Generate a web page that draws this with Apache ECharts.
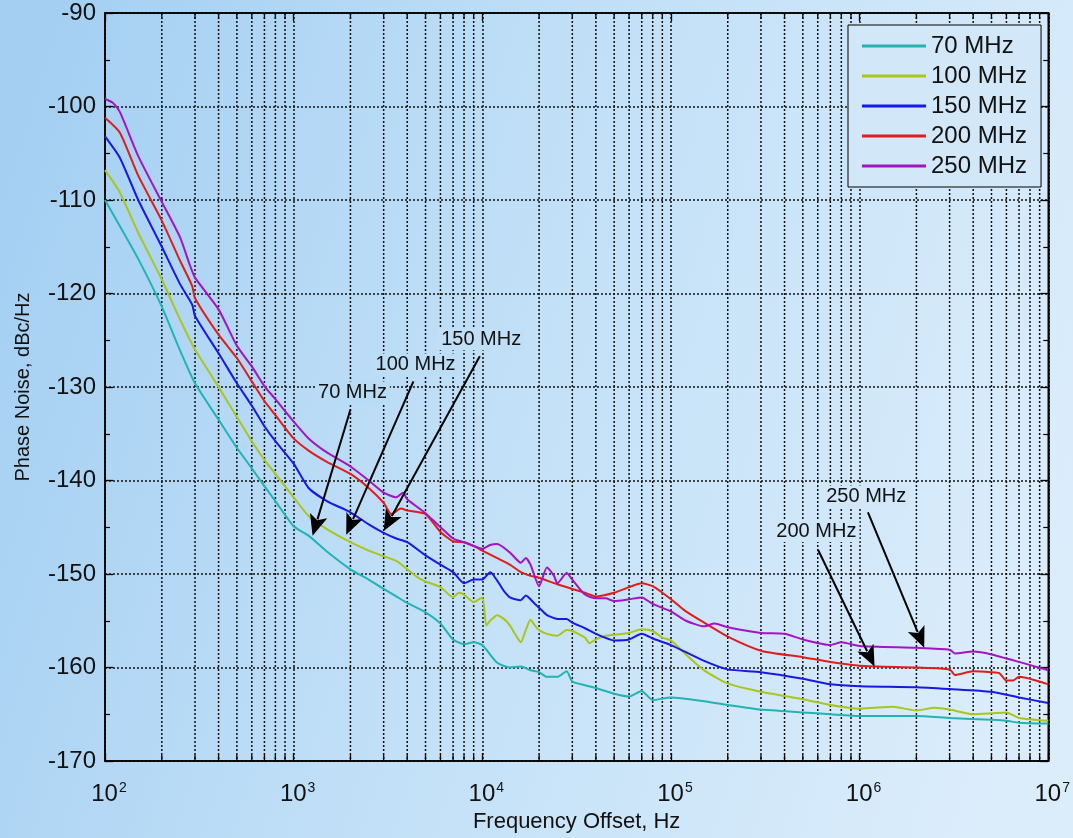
<!DOCTYPE html>
<html>
<head>
<meta charset="utf-8">
<script src="https://cdn.jsdelivr.net/npm/echarts@6/dist/echarts.min.js"></script>
<style>
  html, body { margin: 0; padding: 0; }
  #chart { width: 1073px; height: 838px; }
</style>
</head>
<body>
<div id="chart"></div>
<script>
// Phase noise vs. frequency offset for five carrier frequencies

const seriesNames = ['70 MHz', '100 MHz', '150 MHz', '200 MHz', '250 MHz'];

const freq70 = [100,120,150,200,250,300,400,500,600,700,800,1000,1200,1500,2000,2500,3000,3500,4000,5000,6000,7000,8000,9000,10000,12000,14000,16000,18000,20000,22000,25000,28000,30000,35000,40000,50000,60000,70000,80000,100000,150000,200000,300000,500000,700000,1e6,2e6,3e6,5e6,6e6,7e6,1e7];
const pn70 = [-110.0,-112.8,-116.3,-121.4,-126.1,-129.6,-133.5,-136.5,-138.7,-140.6,-142.2,-144.9,-145.9,-147.6,-149.5,-150.6,-151.6,-152.4,-153.1,-154.1,-155.3,-157.0,-157.5,-157.3,-157.6,-159.5,-160.0,-159.9,-160.3,-160.5,-161.0,-161.0,-160.4,-161.5,-161.9,-162.2,-162.8,-163.1,-162.5,-163.5,-163.2,-163.6,-164.0,-164.5,-164.8,-165.0,-165.2,-165.2,-165.4,-165.6,-165.7,-165.9,-166.0];

const freq100 = [100,110,120,150,200,250,300,400,500,600,700,800,1000,1200,1500,2000,2500,3000,3500,4000,4500,5000,6000,7000,7500,8000,9000,10000,10500,11000,12000,13000,14000,15000,16000,17000,18000,19000,20000,22000,25000,28000,30000,33000,35000,37000,40000,45000,50000,60000,70000,80000,90000,100000,120000,150000,200000,300000,500000,700000,1e6,1.2e6,1.5e6,2e6,2.5e6,3e6,4e6,5e6,6e6,7e6,1e7];
const pn100 = [-106.8,-108.0,-109.2,-113.5,-118.5,-122.8,-126.0,-130.0,-133.2,-135.8,-137.8,-139.3,-141.8,-143.8,-145.2,-146.6,-147.5,-148.1,-148.6,-149.5,-150.3,-150.8,-151.4,-152.5,-152.0,-152.2,-153.0,-152.5,-155.5,-155.0,-154.4,-154.8,-155.5,-156.5,-157.3,-156.0,-154.9,-155.5,-156.0,-156.4,-156.6,-156.0,-156.1,-156.5,-156.8,-157.4,-157.0,-156.6,-156.5,-156.3,-155.9,-156.1,-156.8,-157.1,-158.6,-160.3,-161.7,-162.6,-163.4,-164.0,-164.4,-164.3,-164.2,-164.6,-164.3,-164.5,-165.0,-164.9,-164.8,-165.4,-165.7];

const freq150 = [100,120,150,200,250,290,300,400,500,600,700,800,1000,1200,1500,2000,2500,3000,3500,4000,5000,6000,7000,8000,9000,10000,11000,13000,14000,16000,17000,19000,20000,22000,25000,28000,30000,35000,40000,50000,60000,70000,80000,100000,150000,200000,300000,500000,700000,1e6,2e6,3e6,5e6,7e6,1e7];
const pn150 = [-103.2,-105.5,-110.0,-115.0,-119.0,-121.2,-122.4,-126.4,-129.6,-132.0,-134.2,-135.8,-138.2,-140.8,-142.2,-143.4,-144.7,-145.6,-146.2,-146.6,-148.0,-149.0,-149.8,-151.0,-150.6,-150.6,-149.8,-151.8,-152.5,-152.8,-152.3,-153.2,-153.6,-154.4,-154.8,-154.8,-155.2,-155.8,-156.4,-157.1,-157.0,-156.4,-156.9,-157.6,-159.3,-160.2,-160.5,-161.2,-161.8,-162.0,-162.1,-162.3,-162.6,-163.2,-163.8];

const freq200 = [100,120,150,200,250,290,300,400,500,600,700,800,1000,1200,1500,2000,2500,3000,3300,3700,4000,5000,6000,7000,8000,9000,10000,12000,14000,16000,18000,20000,25000,30000,35000,40000,50000,60000,70000,80000,90000,100000,120000,150000,200000,300000,500000,700000,1e6,2e6,3e6,3.2e6,4e6,5e6,5.5e6,6e6,6.5e6,7e6,1e7];
const pn200 = [-101.2,-102.8,-107.4,-112.2,-116.5,-119.2,-120.5,-124.4,-126.9,-129.4,-131.5,-133.0,-135.5,-136.8,-138.0,-139.3,-140.8,-142.4,-143.6,-143.0,-143.2,-143.6,-145.5,-146.5,-146.6,-147.0,-147.5,-148.3,-149.0,-149.8,-150.2,-150.4,-151.1,-151.6,-152.0,-152.4,-152.0,-151.4,-151.0,-151.3,-152.0,-152.7,-154.0,-155.2,-156.7,-158.2,-158.9,-159.4,-159.8,-160.0,-160.2,-160.8,-160.4,-160.5,-160.6,-161.4,-161.4,-161.0,-161.8];

const freq250 = [100,110,120,150,200,250,280,300,400,500,600,700,800,1000,1200,1500,2000,2500,3000,3500,3800,4000,5000,6000,7000,8000,9000,10000,11000,12000,14000,16000,17000,18000,20000,22000,24000,25000,28000,30000,35000,40000,45000,50000,60000,70000,80000,100000,120000,150000,170000,200000,300000,400000,500000,700000,800000,1e6,2e6,3e6,3.2e6,4e6,5e6,7e6,1e7];
const pn250 = [-99.2,-99.6,-100.6,-105.3,-110.2,-114.0,-116.8,-118.3,-121.7,-125.6,-127.8,-129.9,-131.3,-133.7,-135.5,-137.0,-138.5,-140.0,-141.3,-141.8,-141.3,-142.0,-143.5,-145.0,-146.2,-146.6,-147.0,-147.3,-146.9,-146.8,-147.7,-148.8,-148.3,-149.0,-151.3,-149.3,-150.2,-151.0,-149.9,-150.6,-152.2,-152.6,-152.6,-152.9,-152.7,-152.5,-153.2,-154.0,-155.0,-155.6,-155.3,-155.7,-156.3,-156.4,-157.0,-157.6,-157.3,-157.7,-157.9,-158.1,-158.5,-158.3,-158.6,-159.4,-160.3];

const seriesFreqs = [freq70, freq100, freq150, freq200, freq250];
const seriesValues = [pn70, pn100, pn150, pn200, pn250];
const seriesColors = ['#20b4b4', '#a9c61c', '#1818e8', '#e01c1c', '#a414c4'];

// Callouts: label text, label anchor, arrow tail and arrow tip (Hz, dBc/Hz)
const calloutLabels = ['70 MHz', '100 MHz', '150 MHz', '200 MHz', '250 MHz'];
const calloutLabelAt = [[2050, -130.6], [4430, -127.6], [9860, -124.9], [590000, -145.4], [1084000, -141.7]];
const calloutTail = [[2000, -132.4], [4315, -129.4], [9700, -126.7], [602000, -147.4], [1107000, -143.4]];
const calloutTip = [[1260, -145.9], [1900, -145.8], [3000, -145.4], [1200000, -159.9], [2200000, -157.9]];

const yMin = -170, yMax = -90, yStep = 10;
const xMin = 100, xMax = 1e7;

const FONT = '"Liberation Sans", Arial, sans-serif';

// Background gradient stops (horizontal position -> colour)
const bgStops = [[0, [164, 207, 242]], [0.45, [192, 223, 247]], [1, [219, 237, 251]]];
function bgAt(px) {
  const t = Math.min(1, Math.max(0, px / 1073));
  for (let i = 1; i < bgStops.length; i++) {
    if (t <= bgStops[i][0]) {
      const a = bgStops[i - 1], b = bgStops[i];
      const k = (t - a[0]) / (b[0] - a[0]);
      const c = a[1].map((v, j) => Math.round(v + (b[1][j] - v) * k));
      return 'rgb(' + c.join(',') + ')';
    }
  }
  return 'rgb(' + bgStops[bgStops.length - 1][1].join(',') + ')';
}

// Minor decade positions (2..9 x 10^n) for the log grid
const minorFreqs = [];
for (let e = 2; e < 7; e++) {
  for (let m = 2; m <= 9; m++) minorFreqs.push(m * Math.pow(10, e));
}

const chart = echarts.init(document.getElementById('chart'), null, { renderer: 'canvas' });

const lineSeries = seriesNames.map((name, i) => ({
  name: name,
  type: 'line',
  data: seriesFreqs[i].map((f, j) => [f, seriesValues[i][j]]),
  showSymbol: false,
  symbol: 'none',
  smooth: 0.2,
  lineStyle: { color: seriesColors[i], width: 2 },
  itemStyle: { color: seriesColors[i] },
  z: 5,
  silent: true,
  animation: false
}));

const gridSeries = {
  type: 'custom',
  silent: true,
  z: 1,
  animation: false,
  data: minorFreqs.map(f => [f, yMin]),
  renderItem: function (params, api) {
    const f = api.value(0);
    const top = api.coord([f, yMax]);
    const bot = api.coord([f, yMin]);
    return {
      type: 'group',
      children: [
        { type: 'line', shape: { x1: top[0], y1: top[1], x2: bot[0], y2: bot[1] },
          style: { stroke: '#111', lineWidth: 1.5, lineDash: [2, 2] } },
        { type: 'line', shape: { x1: bot[0], y1: bot[1], x2: bot[0], y2: bot[1] - 6 },
          style: { stroke: '#000', lineWidth: 1.3 } },
        { type: 'line', shape: { x1: top[0], y1: top[1], x2: top[0], y2: top[1] + 6 },
          style: { stroke: '#000', lineWidth: 1.3 } }
      ]
    };
  }
};

const calloutSeries = {
  type: 'custom',
  silent: true,
  z: 10,
  animation: false,
  data: calloutTip.map(p => [p[0], p[1]]),
  renderItem: function (params, api) {
    const i = params.dataIndex;
    const tail = api.coord(calloutTail[i]);
    const tip = api.coord(calloutTip[i]);
    const lab = api.coord(calloutLabelAt[i]);
    const dx = tip[0] - tail[0], dy = tip[1] - tail[1];
    const len = Math.sqrt(dx * dx + dy * dy);
    const ux = dx / len, uy = dy / len;
    const headLen = 21, headHalf = 9;
    const bx = tip[0] - ux * headLen, by = tip[1] - uy * headLen;
    const px = -uy, py = ux;
    return {
      type: 'group',
      children: [
        { type: 'line', shape: { x1: tail[0], y1: tail[1], x2: bx + ux * 4, y2: by + uy * 4 },
          style: { stroke: '#000', lineWidth: 2 } },
        { type: 'polygon',
          shape: { points: [[tip[0], tip[1]],
                            [bx + px * headHalf, by + py * headHalf],
                            [bx + ux * 5, by + uy * 5],
                            [bx - px * headHalf, by - py * headHalf]] },
          style: { fill: '#000' } },
        { type: 'text', x: lab[0], y: lab[1],
          style: { text: calloutLabels[i], fill: '#111', font: '20px ' + FONT,
                   align: 'center', verticalAlign: 'middle',
                   backgroundColor: bgAt(lab[0]), padding: [1, 3] } }
      ]
    };
  }
};

const option = {
  animation: false,
  backgroundColor: {
    type: 'linear', x: 0, y: 0.2, x2: 1, y2: 0.6,
    colorStops: bgStops.map(s => ({ offset: s[0], color: 'rgb(' + s[1].join(',') + ')' }))
  },
  textStyle: { fontFamily: FONT },
  grid: {
    left: 105, right: 20, top: 13, bottom: 76,
    show: true, borderColor: '#000', borderWidth: 1.5, backgroundColor: 'transparent'
  },
  legend: {
    data: seriesNames.map(n => ({ name: n, icon: 'rect' })),
    orient: 'vertical',
    left: 848, top: 25,
    backgroundColor: '#d2e8f9',
    borderColor: '#000', borderWidth: 1,
    borderRadius: 0,
    padding: [9, 14, 9, 14],
    itemWidth: 64, itemHeight: 3, itemGap: 6,
    textStyle: { fontSize: 24, lineHeight: 24, color: '#111', fontFamily: FONT },
    selectedMode: false
  },
  xAxis: [{
    type: 'log', logBase: 10, min: xMin, max: xMax, splitNumber: 5,
    position: 'bottom',
    name: 'Frequency Offset, Hz', nameLocation: 'middle', nameGap: 50,
    nameTextStyle: { fontSize: 22, color: '#111', fontFamily: FONT },
    axisLine: { show: true, lineStyle: { color: '#000', width: 1.5 } },
    axisTick: { show: true, inside: true, length: 8, lineStyle: { color: '#000', width: 1.3 } },
    axisLabel: {
      margin: 20,
      formatter: function (v) { return '{b|10}{s|' + Math.round(Math.log10(v)) + '}'; },
      rich: {
        b: { fontSize: 24, color: '#111', fontFamily: FONT, padding: [0, 0, 0, 8] },
        s: { fontSize: 14, color: '#111', fontFamily: FONT, verticalAlign: 'top', padding: [0, 0, 12, 1] }
      }
    },
    splitLine: { show: true, lineStyle: { color: '#111', width: 1.5, type: [2, 2] } }
  }, {
    type: 'log', logBase: 10, min: xMin, max: xMax, splitNumber: 5,
    position: 'top',
    axisLine: { show: true, lineStyle: { color: '#000', width: 1.5 } },
    axisTick: { show: true, inside: true, length: 8, lineStyle: { color: '#000', width: 1.3 } },
    axisLabel: { show: false },
    splitLine: { show: false }
  }],
  yAxis: [{
    type: 'value', min: yMin, max: yMax, interval: yStep,
    position: 'left',
    name: 'Phase Noise, dBc/Hz', nameLocation: 'middle', nameGap: 72,
    nameTextStyle: { fontSize: 20, color: '#111', fontFamily: FONT },
    axisLine: { show: true, lineStyle: { color: '#000', width: 1.5 } },
    axisTick: { show: true, inside: true, length: 8, lineStyle: { color: '#000', width: 1.3 } },
    minorTick: { show: true, splitNumber: 2, length: 5, lineStyle: { color: '#000', width: 1.2 } },
    axisLabel: { fontSize: 24, color: '#111', margin: 9, fontFamily: FONT },
    splitLine: { show: true, lineStyle: { color: '#111', width: 1.5, type: [2, 2] } }
  }, {
    type: 'value', min: yMin, max: yMax, interval: yStep,
    position: 'right',
    axisLine: { show: true, lineStyle: { color: '#000', width: 1.5 } },
    axisTick: { show: true, inside: true, length: 8, lineStyle: { color: '#000', width: 1.3 } },
    minorTick: { show: true, splitNumber: 2, length: 5, lineStyle: { color: '#000', width: 1.2 } },
    axisLabel: { show: false },
    splitLine: { show: false }
  }],
  series: [gridSeries].concat(lineSeries).concat([calloutSeries])
};

chart.setOption(option);
</script>
</body>
</html>
